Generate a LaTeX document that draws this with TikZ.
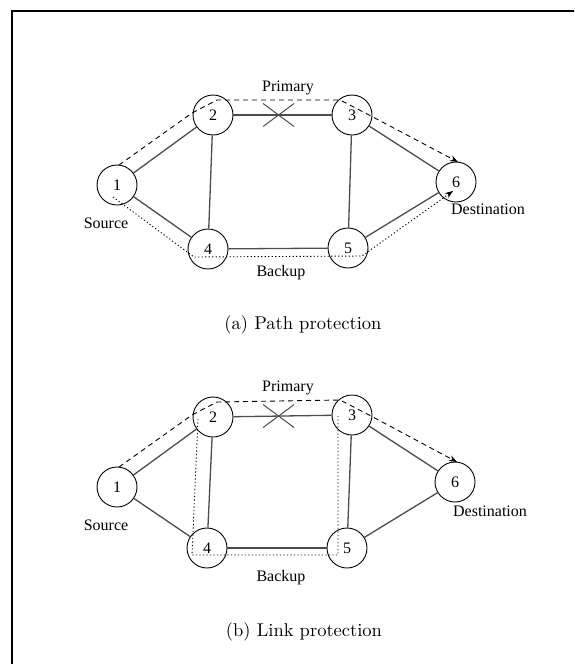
\documentclass[tikz,border=0pt]{standalone}
\usepackage{fontspec}
\newfontfamily\labelfont{Liberation Serif}
\newfontfamily\capfont{lmroman10-regular}[Extension=.otf]
\usetikzlibrary{arrows.meta,shapes.misc}

\tikzset{
  site/.style={draw, circle, line width=0.9pt, minimum size=40pt, inner sep=0pt,
    font=\labelfont\fontsize{16}{16}\selectfont},
  link/.style={line width=1.3pt, black!70},
  primary/.style={dash pattern=on 5pt off 4pt, line width=0.9pt},
  backup/.style={dash pattern=on 1.2pt off 2.3pt, line width=0.9pt},
  tip/.style={-{Stealth[length=8pt, width=6pt]}},
  tag/.style={font=\labelfont\fontsize{16}{16}\selectfont},
  caption/.style={font=\capfont\fontsize{18.5}{21}\selectfont},
  cut/.style={cross out, draw, line width=1pt, minimum width=30pt,
    minimum height=22pt, inner sep=0pt},
}

\begin{document}
\begin{tikzpicture}[x=1pt, y=-1pt]

\path [use as bounding box] (0,0) rectangle (574,664);

% FRAME
\begin{scope}
\clip (0,0) rectangle (574,664);
\draw [line width=2.5pt] (12,700) -- (12,11) -- (600,11);
\end{scope}

% (a) PATH PROTECTION
\node [site] (a1) at (117,185) {1};
\node [site] (a2) at (213,115) {2};
\node [site] (a3) at (352,115) {3};
\node [site] (a4) at (208,249) {4};
\node [site] (a5) at (348,248) {5};
\node [site] (a6) at (456,182) {6};

\foreach \u/\v in {1/2,1/4,2/4,3/5,3/6,4/5,5/6}
  \draw [link] (a\u) -- (a\v);
\draw [link] (a2) -- node [cut, pos=0.46] (xa) {} (a3);

\draw [primary, tip] ([shift={(2,-20)}]a1.center) -- ([shift={(-21,-2)}]a2.center)
  -- ([shift={(4,-15)}]a2.center) -- ([shift={(-12,-15)}]a3.center)
  -- ([shift={(19,1)}]a3.center) -- ([shift={(2,-20)}]a6.center);
\draw [backup, tip] ([shift={(-4,12)}]a1.center) -- ([shift={(-14,8)}]a4.center)
  -- ([shift={(14,8)}]a5.center) -- ([shift={(-3,9)}]a6.center);

\node [tag] (pa) at (288,88) {Primary};
\node [tag] (ba) at (281,273) {Backup};
\node [tag] (sa) at (106,223) {Source};
\node [tag] (da) at (488,209) {Destination};
\node [caption] (capa) at (303,325) {(a) Path protection};

% (b) LINK PROTECTION
\node [site] (b1) at (117,487) {1};
\node [site] (b2) at (213,417) {2};
\node [site] (b3) at (352,415) {3};
\node [site] (b4) at (207,548) {4};
\node [site] (b5) at (347,548) {5};
\node [site] (b6) at (455,482) {6};

\foreach \u/\v in {1/2,1/4,2/4,3/5,3/6,4/5,5/6}
  \draw [link] (b\u) -- (b\v);
\draw [link] (b2) -- node [cut, pos=0.46] (xb) {} (b3);

\draw [primary, tip] ([shift={(2,-20)}]b1.center) -- ([shift={(-21,-2)}]b2.center)
  -- ([shift={(4,-15)}]b2.center) -- ([shift={(-12,-15)}]b3.center)
  -- ([shift={(19,1)}]b3.center) -- ([shift={(2,-20)}]b6.center);
\draw [backup] ([shift={(-15,2)}]b2.center) -- ([shift={(-15,7)}]b4.center)
  -- ([shift={(-9,7)}]b5.center) -- ([shift={(-14,0)}]b3.center);

\node [tag] (pb) at (288,388) {Primary};
\node [tag] (bb) at (281,578) {Backup};
\node [tag] (sb) at (106,525) {Source};
\node [tag] (db) at (490,511) {Destination};
\node [caption] (capb) at (304,632) {(b) Link protection};

\end{tikzpicture}
\end{document}
